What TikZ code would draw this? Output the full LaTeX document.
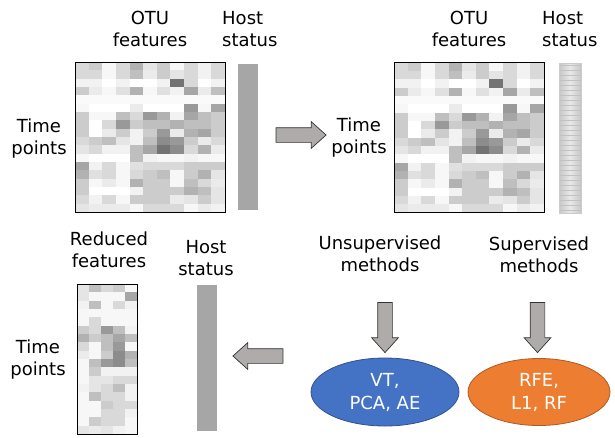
\documentclass[tikz,border=0pt]{standalone}
\usepackage{fontspec}
\setmainfont{DejaVu Sans}
\usepackage{tikz}
\usetikzlibrary{positioning,shapes.geometric,shapes.arrows}
\definecolor{arrowgray}{HTML}{AFABAB}
\definecolor{bargray}{HTML}{A6A6A6}
\definecolor{unsupblue}{HTML}{4472C4}
\definecolor{unsupline}{HTML}{2F528F}
\definecolor{suporange}{HTML}{ED7D31}
\definecolor{supline}{HTML}{AE5A21}
% grey levels of the OTU table, one row per time point
\newcommand{\otudata}{%
 {15,20,3,15,30,10,20,3,15,5,15},
 {15,15,3,15,25,8,20,10,15,5,15},
 {5,5,0,5,0,0,5,55,15,0,5},
 {20,8,3,12,30,3,12,5,35,8,25},
 {2,2,2,2,2,2,2,2,2,2,2},
 {3,0,0,0,8,0,0,0,40,3,35},
 {20,3,3,25,15,40,30,5,35,25,20},
 {20,0,15,40,20,25,25,30,25,25,20},
 {20,0,8,20,5,20,40,8,30,35,20},
 {15,20,25,10,5,25,45,40,20,8,15},
 {10,15,5,5,25,35,55,45,15,30,8},
 {3,0,0,0,25,5,3,3,5,3,3},
 {35,5,15,3,12,15,15,15,20,20,20},
 {30,12,15,3,15,20,25,3,20,30,10},
 {20,3,8,3,30,20,20,3,25,15,8},
 {20,0,0,0,5,20,20,20,30,25,10},
 {15,5,15,3,20,20,20,8,10,20,10},
 {10,8,8,8,3,15,15,15,3,8,5}}
\newcommand{\reddata}{%
 {10,25,15,20,3},
 {10,3,3,3,35},
 {5,25,3,15,5},
 {3,3,3,3,3},
 {3,15,3,3,3},
 {20,15,40,25,5},
 {30,20,25,35,25},
 {15,3,25,40,3},
 {8,3,20,45,30},
 {3,25,40,45,25},
 {3,20,5,5,5},
 {3,10,10,15,15},
 {5,10,15,25,5},
 {3,25,15,15,5},
 {3,3,20,15,15},
 {3,3,15,15,5},
 {3,20,15,15,3},
 {10,8,10,5,3}}
\begin{document}
\begin{tikzpicture}[x=1pt,y=-1pt,
  lbl/.style={font=\fontsize{18}{22}\selectfont,align=center,inner sep=0pt,anchor=north},
  heatframe/.style={draw,line width=0.8pt,inner sep=0pt},
  hostbar/.style={fill=bargray,inner sep=0pt,minimum width=20pt,minimum height=146pt},
  blk/.style={single arrow,draw=black!80,fill=arrowgray,line width=0.7pt,inner sep=7pt,
    single arrow head extend=6pt,single arrow tip angle=84,minimum height=50pt},
  meth/.style={ellipse,font=\fontsize{18}{23}\selectfont,align=center,text=white,
    line width=0.8pt,inner sep=0pt}]
  \useasboundingbox (0,0) rectangle (615,437);
  % OTU table
  \foreach \rowvals [count=\r from 0] in \otudata {
   \foreach \v [count=\c from 0] in \rowvals {
    \fill[black!\v] ({75+\c*150/11},{62+\r*150/18}) rectangle ++({150/11+0.3},{150/18+0.3});
    \fill[black!\v] ({394+\c*150/11},{62.5+\r*150/18}) rectangle ++({150/11+0.3},{150/18+0.3});
   }
  }
  \node[heatframe,minimum width=150pt,minimum height=150pt](otuA) at (150,137){};
  \node[heatframe,minimum width=150pt,minimum height=150pt](otuB) at (469,137.5){};
  \node[lbl](otuAl) at (150,11){OTU\\features};
  \node[lbl](otuBl) at (469,11){OTU\\features};
  \node[lbl,align=left,anchor=north west](hostAl) at (222,11){Host\\status};
  \node[lbl,align=left,anchor=north west](hostBl) at (542,11){Host\\status};
  \node[lbl](timeA) at (39,119){Time\\points};
  \node[lbl](timeB) at (359,118){Time\\points};
  % host status
  \node[hostbar](hostA) at (248,137){};
  \node[inner sep=0pt,minimum width=22pt,minimum height=150pt,draw=black!20,
    left color=black!22,right color=black!22,middle color=black!9](hostB) at (570,138){};
  \foreach \k in {0,...,29}
   \draw[black!24,line width=0.4pt] (559.5,{65.5+\k*5}) -- (580.5,{65.5+\k*5});
  \node[blk](toB) at (297,135){};
  % feature selection
  \node[lbl](unsup) at (380,236){Unsupervised\\methods};
  \node[lbl](sup) at (539,237){Supervised\\methods};
  \node[blk,rotate=-90](downA) at (385,323.5){};
  \node[blk,rotate=-90](downB) at (537.5,323.5){};
  \node[meth,fill=unsupblue,draw=unsupline,minimum width=148pt,minimum height=68pt](vt) at (385,392){VT,\\PCA, AE};
  \node[meth,fill=suporange,draw=supline,minimum width=142pt,minimum height=67pt](rfe) at (539,392){RFE,\\L1, RF};
  % reduced table
  \node[blk,rotate=180](toC) at (262,356){};
  \foreach \rowvals [count=\r from 0] in \reddata {
   \foreach \v [count=\c from 0] in \rowvals {
    \fill[black!\v] ({77+\c*12},{284+\r*150/18}) rectangle ++(12.3,{150/18+0.3});
   }
  }
  \node[heatframe,minimum width=60pt,minimum height=150pt](redC) at (107,359){};
  \node[hostbar](hostC) at (207,358){};
  \node[lbl](redCl) at (109,232){Reduced\\features};
  \node[lbl](hostCl) at (206,240){Host\\status};
  \node[lbl](timeC) at (38,340){Time\\points};
\end{tikzpicture}
\end{document}
